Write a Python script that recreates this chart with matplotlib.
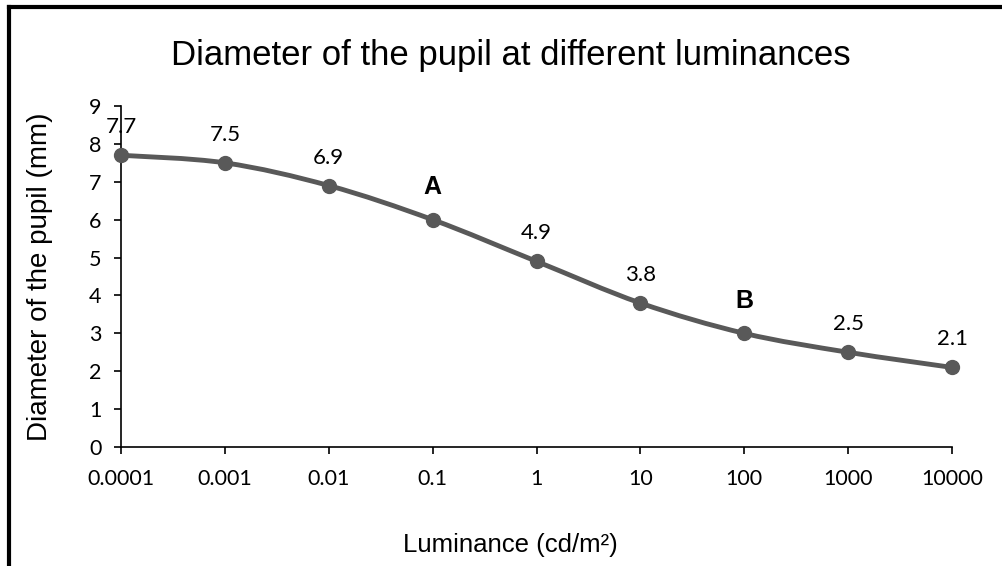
import matplotlib
matplotlib.use("Agg")
import matplotlib.pyplot as plt
import numpy as np
from matplotlib.path import Path
from matplotlib.patches import PathPatch
from matplotlib.lines import Line2D

# data
luminance = ["0.0001", "0.001", "0.01", "0.1", "1", "10", "100", "1000", "10000"]
diameter = [7.7, 7.5, 6.9, 6.0, 4.9, 3.8, 3.0, 2.5, 2.1]
point_labels = ["7.7", "7.5", "6.9", "A", "4.9", "3.8", "B", "2.5", "2.1"]
bold_labels = ["A", "B"]

GREY = "#595959"


def smooth_path(xs, ys):
    """Bezier path through the points, like a spreadsheet 'smoothed line'."""
    pts = np.column_stack([xs, ys]).astype(float)
    n = len(pts)
    verts = [pts[0]]
    codes = [Path.MOVETO]
    for i in range(n - 1):
        p_prev = pts[max(i - 1, 0)]
        p0 = pts[i]
        p1 = pts[i + 1]
        p_next = pts[min(i + 2, n - 1)]
        c1 = p0 + (p1 - p_prev) / 6.0
        c2 = p1 - (p_next - p0) / 6.0
        verts += [c1, c2, p1]
        codes += [Path.CURVE4] * 3
    return Path(verts, codes)


fig = plt.figure(figsize=(10.02, 5.66), dpi=100)
ax = fig.add_axes([121 / 1002, (566 - 447) / 566, (952 - 121) / 1002, (447 - 106) / 566])

x = np.arange(len(luminance))
ax.add_patch(PathPatch(smooth_path(x, diameter), facecolor="none", edgecolor=GREY,
                       lw=3.5, capstyle="round", joinstyle="round", zorder=3))
ax.plot(x, diameter, "o", color=GREY, ms=10, zorder=4, clip_on=False)

for xi, yi, lab in zip(x, diameter, point_labels):
    if lab in bold_labels:
        ax.annotate(lab, (xi, yi), xytext=(0, 15), textcoords="offset points",
                    ha="center", va="bottom", fontsize=18, fontweight="bold",
                    family="Liberation Sans", color="black")
    else:
        ax.annotate(lab, (xi, yi), xytext=(0, 13), textcoords="offset points",
                    ha="center", va="bottom", fontsize=16, family="Lato", color="black")

ax.set_xlim(0, len(luminance) - 1)
ax.set_ylim(0, 9)
ax.set_xticks(x)
ax.set_xticklabels(luminance, family="Lato", fontsize=15.5)
ax.set_yticks(range(0, 10))
ax.set_yticklabels([str(v) for v in range(0, 10)], family="Lato", fontsize=15.5)

for side in ["top", "right"]:
    ax.spines[side].set_visible(False)
for side in ["left", "bottom"]:
    ax.spines[side].set_linewidth(1.2)
ax.tick_params(axis="both", direction="out", length=5, width=1.2, color="black")
ax.tick_params(axis="y", pad=9)
ax.tick_params(axis="x", pad=11)

fig.text(0.51, 1 - 55 / 566, "Diameter of the pupil at different luminances",
         ha="center", va="center", fontsize=25, family="Liberation Sans")
fig.text(40 / 1002, 1 - 277 / 566, "Diameter of the pupil (mm)", rotation=90,
         ha="center", va="center", fontsize=20, family="Liberation Sans")
fig.text(510 / 1002, 1 - 545 / 566, "Luminance (cd/m²)",
         ha="center", va="center", fontsize=18.5, family="Liberation Sans")

# black frame on the left and top edges
fig.add_artist(Line2D([9 / 1002, 9 / 1002], [0, 1 - 7 / 566], color="black", lw=3,
                      transform=fig.transFigure, solid_capstyle="projecting"))
fig.add_artist(Line2D([9 / 1002, 1], [1 - 7 / 566, 1 - 7 / 566], color="black", lw=3,
                      transform=fig.transFigure, solid_capstyle="projecting"))

fig.savefig("out.png", dpi=100)
